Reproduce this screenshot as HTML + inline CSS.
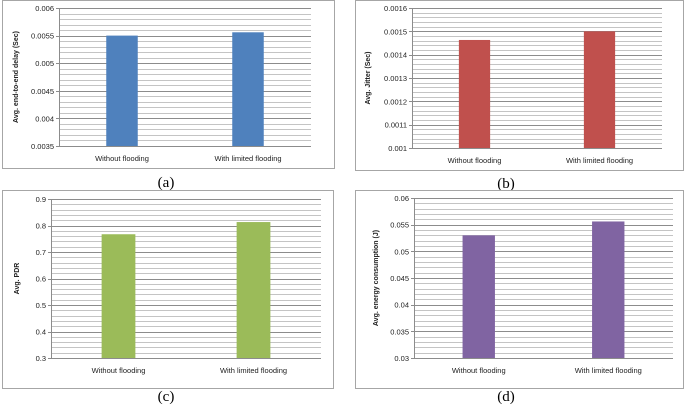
<!DOCTYPE html>
<html><head><meta charset="utf-8"><style>
body{margin:0;background:#fff;width:685px;height:408px;overflow:hidden;font-family:"Liberation Sans",sans-serif}
svg{position:absolute;left:0;top:0}
</style></head><body>
<svg id="c" width="685" height="408"></svg>
<script>
const categories=["Without flooding","With limited flooding"];
const delayValues=[0.0055,0.00556];
const jitterValues=[0.001463,0.0015];
const pdrValues=[0.767,0.813];
const energyValues=[0.0530,0.0556];
const delayTicks=["0.0035","0.004","0.0045","0.005","0.0055","0.006"];
const jitterTicks=["0.001","0.0011","0.0012","0.0013","0.0014","0.0015","0.0016"];
const pdrTicks=["0.3","0.4","0.5","0.6","0.7","0.8","0.9"];
const energyTicks=["0.03","0.035","0.04","0.045","0.05","0.055","0.06"];
const NS="http://www.w3.org/2000/svg";
const svg=document.getElementById('c');
function mk(t,a,p){const e=document.createElementNS(NS,t);for(const k in a)e.setAttribute(k,a[k]);(p||svg).appendChild(e);return e;}
function panel(o){
  const g=mk('g',{});
  
  
  const fr=mk('rect',{x:o.box[0]+.5,y:o.box[1]+.5,width:o.box[2]-o.box[0],height:o.box[3]-o.box[1],fill:'#fff',stroke:'#a6a6a6','stroke-width':1},g);
  
  
  const min=+o.ticks[0],max=+o.ticks[o.ticks.length-1];
  const y=v=>o.b-(v-min)/(max-min)*(o.b-o.t);
  const nMaj=o.ticks.length-1;
  for(let i=0;i<=nMaj*o.minor;i++){
    const v=min+(max-min)*i/(nMaj*o.minor);const yy=Math.round(y(v))+.5;
    const major=i%o.minor===0;
    const ln=mk('line',{x1:o.l-(major?3:0),x2:o.r,y1:yy,y2:yy,stroke:major?'#8c8c8c':'#c4c4c4','stroke-width':1},g);
    
    
  }
  o.ticks.forEach((t,i)=>{
    const tx=mk('text',{x:o.l-5,y:y(+t)+3,'text-anchor':'end','font-size':7.5,fill:'#222'},g);
    tx.textContent=t;
    
    
  });
  const ax=mk('line',{x1:o.l+.5,x2:o.l+.5,y1:o.t,y2:o.b,stroke:'#8c8c8c'},g);
  
  
  const n=categories.length,cw=(o.r-o.l)/n,bw=cw*0.25;
  categories.forEach((c,i)=>{
    const cx=o.l+cw*(i+.5);
    const r=mk('rect',{x:cx-bw/2,y:y(o.vals[i]),width:bw,height:o.b-y(o.vals[i]),fill:o.color},g);
    
    
    const tx=mk('text',{x:cx,y:o.b+15,'text-anchor':'middle','font-size':7.5,fill:'#222'},g);
    tx.textContent=c;
    
    
  });
  const ym=(o.t+o.b)/2,xt=o.l-o.ytOff;
  const yt=mk('text',{x:xt,y:ym,'text-anchor':'middle','font-size':7,'font-weight':'bold',fill:'#222',transform:`rotate(-90 ${xt} ${ym})`},g);
  yt.textContent=o.ytitle;
  
  
  const cap=mk('text',{x:o.cap[0],y:o.cap[1],'text-anchor':'middle','font-size':15,'font-family':'Liberation Serif,serif',fill:'#000'},g);
  cap.textContent=o.capt;
  
  
}
panel({name:'chart-a-delay',box:[2,0,334,168],l:59,r:311,t:8,b:146,ticks:delayTicks,minor:5,vals:delayValues,color:'#4f81bd',ytitle:'Avg. end-to-end delay (Sec)',ytOff:41,cap:[166,187],capt:'(a)'});
panel({name:'chart-b-jitter',box:[355,0,683,170],l:412,r:662,t:8,b:148,ticks:jitterTicks,minor:5,vals:jitterValues,color:'#c0504d',ytitle:'Avg. Jitter (Sec)',ytOff:42,cap:[506,188],capt:'(b)'});
panel({name:'chart-c-pdr',box:[2,190,333,388],l:51,r:321,t:199,b:358,ticks:pdrTicks,minor:5,vals:pdrValues,color:'#9bbb59',ytitle:'Avg. PDR',ytOff:32,cap:[166,401],capt:'(c)'});
panel({name:'chart-d-energy',box:[355,190,683,388],l:414,r:673,t:198,b:358,ticks:energyTicks,minor:5,vals:energyValues,color:'#8064a2',ytitle:'Avg. energy consumption  (J)',ytOff:36,cap:[506,401],capt:'(d)'});
</script>
</body></html>
